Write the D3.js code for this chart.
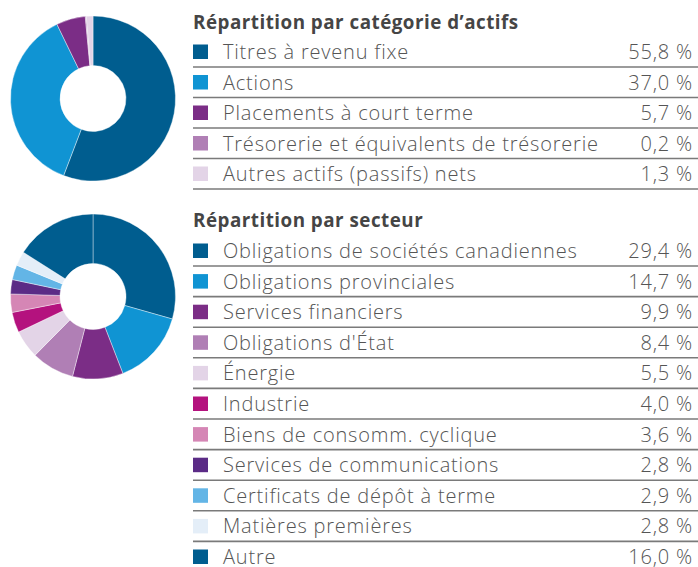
<!DOCTYPE html>
<html><head><meta charset="utf-8">
<script src="https://cdn.jsdelivr.net/npm/d3@7"></script>
<style>
html,body{margin:0;padding:0;background:#fff;}
svg{display:block;}
text{font-variant-ligatures:none;}
</style></head>
<body>
<svg id="chart" width="698" height="567"></svg>
<script>
// ---- data ----
const assetTitle = "Répartition par catégorie d’actifs";
const assetCategories = ["Titres à revenu fixe","Actions","Placements à court terme","Trésorerie et équivalents de trésorerie","Autres actifs (passifs) nets"];
const assetValues = [55.8, 37.0, 5.7, 0.2, 1.3];
const sectorTitle = "Répartition par secteur";
const sectorCategories = ["Obligations de sociétés canadiennes","Obligations provinciales","Services financiers","Obligations d'État","Énergie","Industrie","Biens de consomm. cyclique","Services de communications","Certificats de dépôt à terme","Matières premières","Autre"];
const sectorValues = [29.4, 14.7, 9.9, 8.4, 5.5, 4.0, 3.6, 2.8, 2.9, 2.8, 16.0];

// ---- styles ----
const assetColors = ["#005d8f","#1094d3","#7b2d86","#b07fb5","#e3d4e7"];
const sectorColors = ["#005d8f","#1094d3","#7b2d86","#b07fb5","#e3d4e7","#b4127e","#d586b5","#5b2b86","#63b5e6","#e4eef8","#005d8f"];
const FONT = "'Open Sans', sans-serif";

const svg = d3.select("#chart");
const fmt = v => d3.format(".1f")(v).replace(".", ",") + " %";

function section(title, cats, vals, colors, cfg){
  const pie = d3.pie().sort(null).value(d => d)(vals);
  const arc = d3.arc().innerRadius(cfg.r0).outerRadius(cfg.r1);
  svg.append("g").attr("transform", `translate(${cfg.cx},${cfg.cy})`)
    .selectAll("path").data(pie).join("path")
    .attr("d", arc).attr("fill", (d,i) => colors[i])
    .attr("stroke", "#fff").attr("stroke-width", 0.4);

  const g = svg.append("g");
  g.append("text").attr("x", cfg.lx).attr("y", cfg.titleY)
    .attr("font-family", FONT).attr("font-weight", 700)
    .attr("font-size", 18.8).attr("letter-spacing", 0.5)
    .attr("fill", "#454545").text(title);

  const y = d3.scaleBand().domain(d3.range(cats.length))
    .range([cfg.firstLine - cfg.pitch, cfg.firstLine - cfg.pitch + cfg.pitch*cats.length]).padding(0);

  const rows = g.selectAll("g.row").data(cats).join("g").attr("class","row")
    .attr("transform", (d,i) => `translate(0,${y(i)})`);
  rows.append("rect").attr("x", cfg.lx).attr("y", cfg.pitch - 22.5)
    .attr("width", 15).attr("height", 14.5).attr("fill", (d,i) => colors[i]);
  rows.append("text").attr("x", cfg.tx).attr("y", cfg.pitch - 8)
    .attr("font-family", FONT).attr("font-weight", 300)
    .attr("font-size", 20).attr("letter-spacing", 0.8)
    .attr("fill", "#555").text(d => d);
  rows.append("text").attr("x", cfg.vx).attr("y", cfg.pitch - 8)
    .attr("text-anchor", "end")
    .attr("font-family", FONT).attr("font-weight", 300)
    .attr("font-size", 20).attr("letter-spacing", 0.8)
    .attr("fill", "#555").text((d,i) => fmt(vals[i]));
  rows.append("line").attr("x1", cfg.lx).attr("x2", 698)
    .attr("y1", cfg.pitch).attr("y2", cfg.pitch)
    .attr("stroke", "#7a7a7a").attr("stroke-width", 1.6);
}

section(assetTitle, assetCategories, assetValues, assetColors,
  {cx:93, cy:98.5, r0:33, r1:82.5, lx:193, tx:223, vx:693, titleY:28.5, firstLine:67, pitch:30.5});
section(sectorTitle, sectorCategories, sectorValues, sectorColors,
  {cx:93, cy:296.5, r0:33, r1:82.5, lx:193, tx:223, vx:693, titleY:227, firstLine:266, pitch:30.6});
</script>
</body></html>
